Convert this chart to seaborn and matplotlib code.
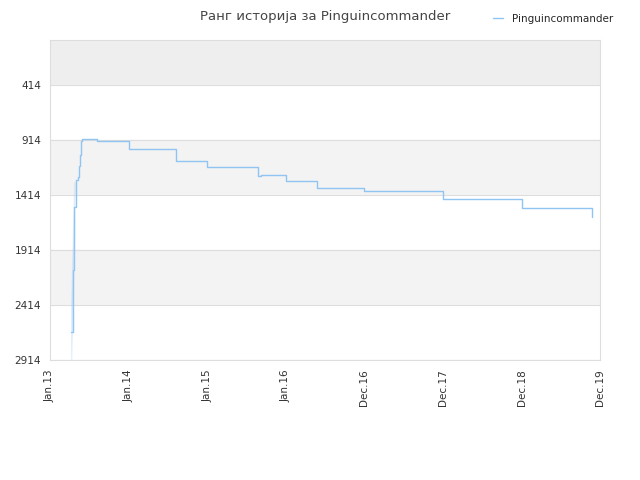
import matplotlib
matplotlib.use("Agg")
import matplotlib.pyplot as plt
import seaborn as sns
import pandas as pd

sns.set_style("white")
plt.rcParams['font.family'] = ['DejaVu Sans']

# years since Jan 2013 and rank values
years = [0.27, 0.27, 0.29, 0.29, 0.31, 0.31, 0.33, 0.36, 0.37, 0.38, 0.39, 0.41,
         0.6, 1.0, 1.6, 2.0, 2.65, 2.68, 3.0, 3.4, 4.0, 5.0, 6.0, 6.9]
ranks = [2914, 2400, 2350, 1850, 1750, 1300, 1280, 1250, 1150, 1050, 920, 905,
         925, 1000, 1110, 1160, 1240, 1232, 1290, 1350, 1380, 1450, 1530, 1614]
tick_labels = ["Jan.13", "Jan.14", "Jan.15", "Jan.16", "Dec.16", "Dec.17", "Dec.18", "Dec.19"]
y_ticks = [414, 914, 1414, 1914, 2414, 2914]

df = pd.DataFrame({"year": years, "rank": ranks})

fig, ax = plt.subplots(figsize=(6.4, 4.8), dpi=100)
fig.subplots_adjust(left=0.078, right=0.938, top=0.917, bottom=0.25)

# alternating bands
band_cols = ["#eeeeee", "#ffffff", "#f3f3f3", "#ffffff", "#f3f3f3", "#ffffff"]
edges = [0, 414, 914, 1414, 1914, 2414, 2914]
for i, c in enumerate(band_cols):
    ax.axhspan(edges[i], edges[i + 1], color=c, zorder=0)
for y in y_ticks:
    ax.axhline(y, color="#dddddd", lw=0.8, zorder=1)

sns.lineplot(data=df, x="year", y="rank", ax=ax, color="#90c4f2", lw=1,
             drawstyle="steps-post", label="Pinguincommander", zorder=3)

ax.set_ylim(2914, 5)
ax.set_xlim(0, 7)
ax.set_yticks(y_ticks)
ax.set_xticks(range(8))
ax.set_xticklabels(tick_labels, rotation=90)
ax.tick_params(labelsize=7.5, colors="#333333", length=3)
ax.set_xlabel("")
ax.set_ylabel("")
for s in ax.spines.values():
    s.set_color("#dddddd")

ax.set_title("Ранг историја за Pinguincommander", fontsize=9.5, color="#444444", pad=14)
ax.legend(loc="lower right", bbox_to_anchor=(1.04, 1.02), frameon=False,
          fontsize=7.5, handlelength=1)

plt.savefig("out.png", dpi=100)
